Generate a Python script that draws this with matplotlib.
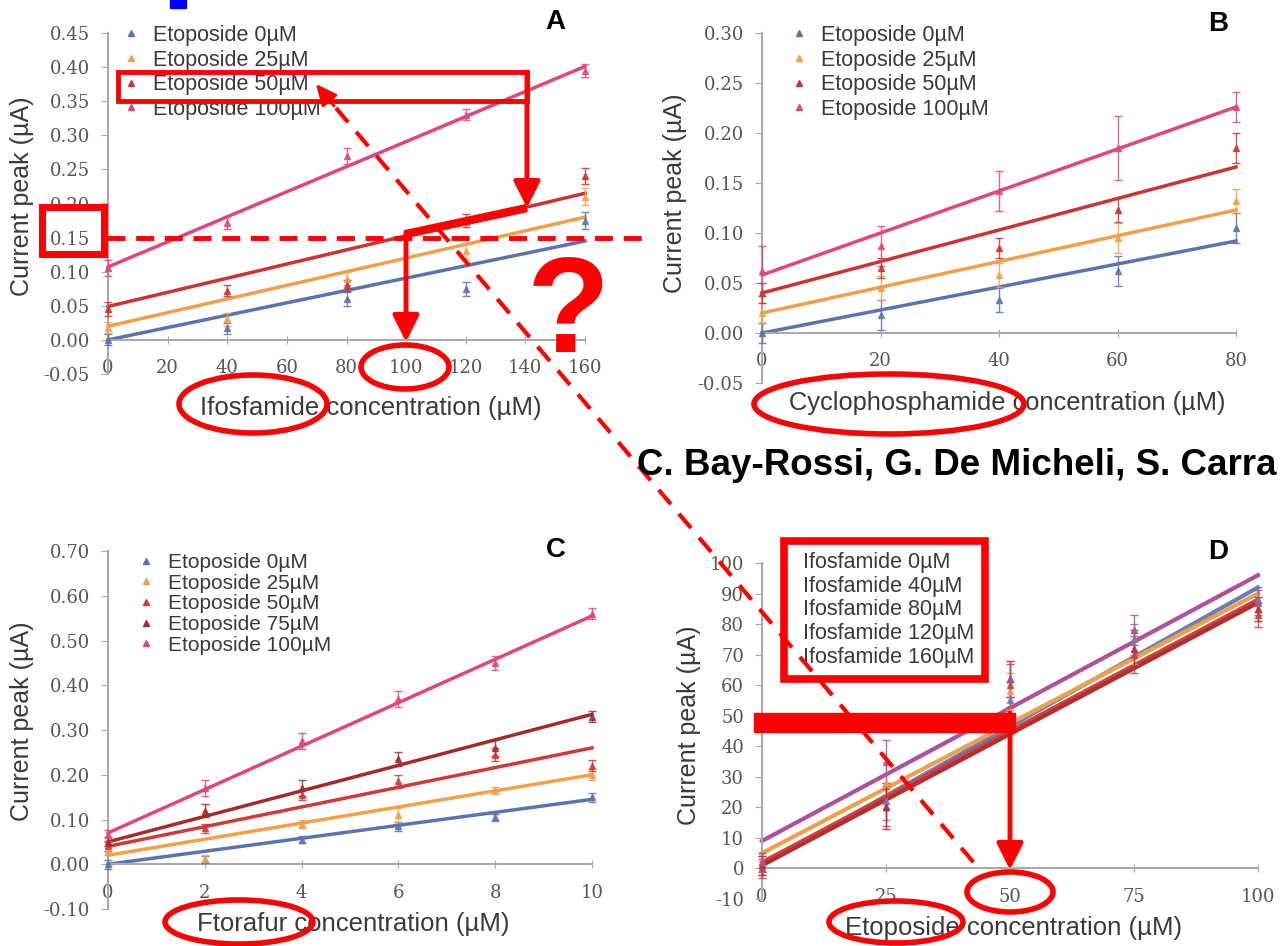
import numpy as np
import matplotlib
matplotlib.use('Agg')
import matplotlib.pyplot as plt
from matplotlib.lines import Line2D
from matplotlib.patches import Rectangle, Ellipse

plt.rcParams['font.family'] = ['Liberation Sans', 'DejaVu Sans']

W, H = 1280, 946

# ---- data ----
# panel A : ifosfamide, series = etoposide level
a_x = [0, 40, 80, 120, 160]
a_ticks = [0, 20, 40, 60, 80, 100, 120, 140, 160]
a_labels = ['Etoposide 0µM', 'Etoposide 25µM', 'Etoposide 50µM', 'Etoposide 100µM']
a_pts = [[0.000, 0.017, 0.060, 0.075, 0.175],
         [0.018, 0.030, 0.090, 0.130, 0.210],
         [0.045, 0.072, 0.080, 0.175, 0.240],
         [0.105, 0.172, 0.270, 0.330, 0.395]]
a_err = [[0.008, 0.008, 0.010, 0.010, 0.012],
         [0.008, 0.010, 0.010, 0.012, 0.012],
         [0.010, 0.008, 0.008, 0.010, 0.012],
         [0.012, 0.010, 0.012, 0.008, 0.010]]
a_fit = [[0.000, 0.145], [0.020, 0.180], [0.049, 0.215], [0.107, 0.401]]

# panel B : cyclophosphamide
b_x = [0, 20, 40, 60, 80]
b_labels = a_labels
b_pts = [[0.000, 0.018, 0.033, 0.062, 0.105],
         [0.020, 0.045, 0.058, 0.095, 0.132],
         [0.040, 0.065, 0.085, 0.123, 0.185],
         [0.062, 0.087, 0.142, 0.185, 0.226]]
b_err = [[0.010, 0.015, 0.012, 0.015, 0.015],
         [0.010, 0.012, 0.012, 0.015, 0.012],
         [0.010, 0.010, 0.010, 0.012, 0.015],
         [0.025, 0.020, 0.020, 0.032, 0.015]]
b_fit = [[0.000, 0.092], [0.020, 0.123], [0.040, 0.166], [0.058, 0.226]]

# panel C : ftorafur
c_x = [0, 2, 4, 6, 8, 10]
c_labels = ['Etoposide 0µM', 'Etoposide 25µM', 'Etoposide 50µM',
            'Etoposide 75µM', 'Etoposide 100µM']
c_pts = [[0.000, 0.010, 0.055, 0.085, 0.105, 0.150],
         [0.030, 0.012, 0.090, 0.110, 0.165, 0.200],
         [0.040, 0.080, 0.155, 0.185, 0.245, 0.220],
         [0.050, 0.120, 0.170, 0.235, 0.260, 0.330],
         [0.065, 0.170, 0.275, 0.370, 0.450, 0.560]]
c_err = [[0.010, 0.008, 0.008, 0.010, 0.008, 0.010],
         [0.010, 0.008, 0.010, 0.015, 0.008, 0.012],
         [0.010, 0.010, 0.012, 0.015, 0.015, 0.012],
         [0.010, 0.015, 0.018, 0.015, 0.018, 0.012],
         [0.012, 0.018, 0.018, 0.018, 0.015, 0.012]]
c_fit = [[0.000, 0.145], [0.020, 0.200], [0.040, 0.260], [0.050, 0.335], [0.070, 0.555]]

# panel D : etoposide, series = ifosfamide level
d_x = [0, 25, 50, 75, 100]
d_labels = ['Ifosfamide 0µM', 'Ifosfamide 40µM', 'Ifosfamide 80µM',
            'Ifosfamide 120µM', 'Ifosfamide 160µM']
d_pts = [[1, 22, 55, 75, 88],
         [2, 28, 58, 72, 85],
         [0, 20, 60, 70, 83],
         [1, 20, 62, 72, 85],
         [2, 35, 62, 78, 87]]
d_err = [[3, 6, 6, 5, 4],
         [3, 7, 6, 5, 4],
         [3, 6, 7, 6, 4],
         [3, 7, 6, 6, 4],
         [3, 7, 6, 5, 4]]
d_fit = [[1, 92], [5, 90], [2, 88], [1, 87], [9, 96]]

col4 = ['#5b74b0', '#f0a04b', '#cc3333', '#e0457f']
col5 = ['#5b74b0', '#f0a04b', '#d03a3a', '#a52a2a', '#e0457f']
colD = ['#6a7fb8', '#f0a048', '#d04040', '#b03030', '#b0509a']
red = '#ff0000'
txt = '#3a3a3a'


def pos(l, t, r, b):
    return [l / W, 1 - b / H, (r - l) / W, (b - t) / H]


def fx(x):
    return x / W


def fy(y):
    return 1 - y / H


def panel(ax, x, pts, errs, fits, colors, xticks, yticks, ylabels, lw=2.5):
    for p, e, f, c in zip(pts, errs, fits, colors):
        ax.plot([x[0], x[-1]], f, color=c, lw=lw, zorder=2, clip_on=False)
        ax.errorbar(x, p, yerr=e, fmt='^', color=c, ms=5, capsize=3,
                    elinewidth=1, alpha=0.85, zorder=3, clip_on=False)
    ax.set_xlim(xticks[0], xticks[-1])
    ax.set_ylim(yticks[0], yticks[-1])
    ax.set_xticks(xticks)
    ax.set_xticklabels([str(v) for v in xticks])
    ax.set_yticks(yticks)
    ax.set_yticklabels(ylabels)
    for s in ['top', 'right']:
        ax.spines[s].set_visible(False)
    ax.spines['left'].set_color('#aaaaaa')
    ax.spines['left'].set_linewidth(1.5)
    ax.spines['bottom'].set_position(('data', 0))
    ax.spines['bottom'].set_color('#aaaaaa')
    ax.spines['bottom'].set_linewidth(1.5)
    ax.tick_params(axis='x', direction='inout', length=6, color='#aaaaaa', pad=11,
                   labelsize=13, labelcolor='#555555')
    ax.tick_params(axis='y', direction='out', length=5, color='#aaaaaa', pad=8,
                   labelsize=13, labelcolor='#555555')
    for t in ax.get_xticklabels() + ax.get_yticklabels():
        t.set_family('DejaVu Serif')
    ax.patch.set_alpha(0)


def marker_legend(ax, labels, colors, x, y, fs, spacing):
    hs = [Line2D([], [], marker='^', ls='none', color=c, ms=5) for c in colors]
    ax.legend(hs, labels, loc='upper left', bbox_to_anchor=(fx(x), fy(y)),
              bbox_transform=fig.transFigure, frameon=False, fontsize=fs,
              handlelength=1, handletextpad=0.55, labelspacing=spacing,
              borderpad=0, borderaxespad=0, labelcolor=txt)


fig = plt.figure(figsize=(12.8, 9.46), dpi=100)
fig.patch.set_facecolor('white')

axA = fig.add_axes(pos(108, 33, 585, 374))
panel(axA, a_x, a_pts, a_err, a_fit, col4, a_ticks,
      [-0.05, 0, 0.05, 0.10, 0.15, 0.20, 0.25, 0.30, 0.35, 0.40, 0.45],
      ['-0.05', '0.00', '0.05', '0.10', '0.15', '0.20', '0.25', '0.30', '0.35', '0.40', '0.45'])
marker_legend(axA, a_labels, col4, 120, 25, 15.5, 0.17)

axB = fig.add_axes(pos(762, 33, 1236, 383))
panel(axB, b_x, b_pts, b_err, b_fit, col4, b_x,
      [-0.05, 0, 0.05, 0.10, 0.15, 0.20, 0.25, 0.30],
      ['-0.05', '0.00', '0.05', '0.10', '0.15', '0.20', '0.25', '0.30'])
marker_legend(axB, b_labels, col4, 788, 25, 15.5, 0.17)

axC = fig.add_axes(pos(108, 551, 592, 909))
panel(axC, c_x, c_pts, c_err, c_fit, col5, c_x,
      [-0.10, 0, 0.10, 0.20, 0.30, 0.40, 0.50, 0.60, 0.70],
      ['-0.10', '0.00', '0.10', '0.20', '0.30', '0.40', '0.50', '0.60', '0.70'])
marker_legend(axC, c_labels, col5, 136, 553, 15, 0.08)

axD = fig.add_axes(pos(762, 563, 1258, 899))
panel(axD, d_x, d_pts, d_err, d_fit, colD, d_x,
      [-10, 0, 10, 20, 30, 40, 50, 60, 70, 80, 90, 100],
      ['-10', '0', '10', '20', '30', '40', '50', '60', '70', '80', '90', '100'], lw=3)
hs = [Line2D([], [], ls='none') for c in colD]
legD = axD.legend(hs, d_labels, loc='upper left', bbox_to_anchor=(fx(784), fy(541)),
                  bbox_transform=fig.transFigure, frameon=True, fancybox=False,
                  fontsize=15.5, handlelength=0, handletextpad=0.4, labelspacing=0.13,
                  borderpad=0.5, borderaxespad=0, framealpha=1, labelcolor=txt)
legD.get_frame().set_edgecolor(red)
legD.get_frame().set_linewidth(5.5)
legD.set_zorder(5)

# axis titles and panel letters
ylab = 'Current peak (µA)'
for x, y in [(22, 196), (675, 193), (22, 721), (689, 725)]:
    fig.text(fx(x), fy(y), ylab, rotation=90, ha='center', va='center',
             fontsize=18, color=txt)
fig.text(fx(371), fy(408), 'Ifosfamide concentration (µM)', ha='center', va='center',
         fontsize=18.5, color=txt)
fig.text(fx(1007), fy(403), 'Cyclophosphamide concentration (µM)', ha='center',
         va='center', fontsize=18.3, color=txt)
fig.text(fx(353), fy(924), 'Ftorafur concentration (µM)', ha='center', va='center',
         fontsize=18.5, color=txt)
fig.text(fx(1014), fy(928), 'Etoposide concentration (µM)', ha='center', va='center',
         fontsize=18.5, color=txt)
for lt, x, y in [('A', 555, 22), ('B', 1218, 24), ('C', 556, 550), ('D', 1218, 552)]:
    fig.text(fx(x), fy(y), lt, ha='center', va='center', fontsize=20,
             fontweight='bold', color='black')

# ---- red annotation overlay (image pixel coordinates) ----
ov = fig.add_axes([0, 0, 1, 1], zorder=10)
ov.set_xlim(0, W)
ov.set_ylim(H, 0)
ov.axis('off')
ov.patch.set_alpha(0)

ov.add_patch(Rectangle((170, 0), 16, 8, color='#0000ff'))
ov.add_patch(Rectangle((118, 72), 409, 29, fill=False, ec=red, lw=3.5))
ov.add_patch(Rectangle((42, 207), 62, 47, fill=False, ec=red, lw=5))

head = '-|>,head_length=1.6,head_width=0.8'
ov.annotate('', xy=(527, 208), xytext=(527, 72),
            arrowprops=dict(arrowstyle=head, lw=3.5, color=red,
                            mutation_scale=10, shrinkA=0, shrinkB=0))
ov.plot([527, 406], [208, 234], color=red, lw=6, solid_capstyle='butt')
ov.annotate('', xy=(406, 342), xytext=(406, 232),
            arrowprops=dict(arrowstyle=head, lw=3.5, color=red,
                            mutation_scale=10, shrinkA=0, shrinkB=0))
ov.plot([107, 650], [238, 238], color=red, lw=3.5, dashes=(3.7, 2.2))

ov.add_patch(Ellipse((405, 367), 88, 44, fill=False, ec=red, lw=4))
ov.add_patch(Ellipse((253, 404), 148, 58, fill=False, ec=red, lw=4))
ov.add_patch(Ellipse((889, 404), 270, 60, fill=False, ec=red, lw=4))
ov.add_patch(Ellipse((239, 922), 148, 44, fill=False, ec=red, lw=4))
ov.add_patch(Ellipse((1010, 892), 86, 40, fill=False, ec=red, lw=4))
ov.add_patch(Ellipse((896, 922), 134, 42, fill=False, ec=red, lw=4))

ov.text(568, 352, '?', ha='center', va='baseline', fontsize=98,
        fontweight='bold', color=red)

ov.plot([336, 980], [108, 870], color=red, lw=3, dashes=(4.5, 3))
ov.annotate('', xy=(316, 84), xytext=(334, 106),
            arrowprops=dict(arrowstyle='-|>,head_length=1.3,head_width=0.6', lw=2,
                            color=red, mutation_scale=10, shrinkA=0, shrinkB=0))

ov.add_patch(Rectangle((754, 713), 261, 19, color=red))
ov.annotate('', xy=(1010, 870), xytext=(1010, 713),
            arrowprops=dict(arrowstyle=head, lw=3.5, color=red,
                            mutation_scale=10, shrinkA=0, shrinkB=0))

# author line, cut by the image edge in the original
ov.text(637, 475, 'C. Bay-Rossi, G. De Micheli, S. Carra', ha='left',
        va='baseline', fontsize=26.5, fontweight='bold', color='black')

fig.savefig('out.png', dpi=100, facecolor='white')
